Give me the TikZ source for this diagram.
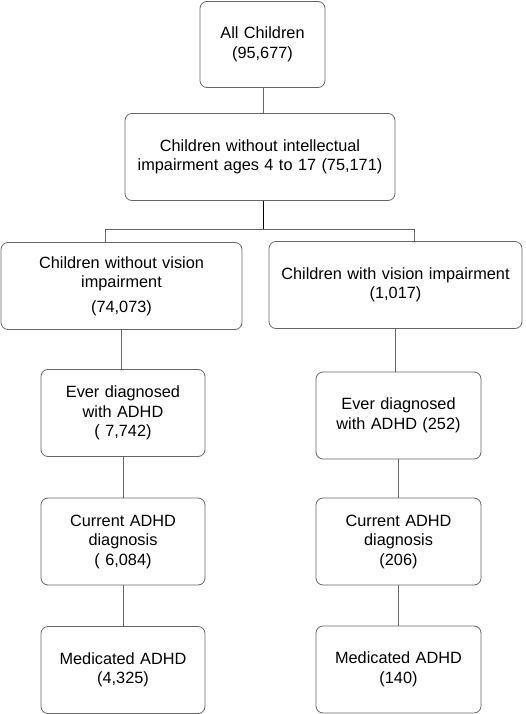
\documentclass[tikz,border=0pt]{standalone}
\usepackage{fontspec}
\setmainfont{Liberation Sans}
\usetikzlibrary{positioning}
\tikzset{
  box/.style = {draw=black!60, line width=0.8pt, rounded corners=7pt, align=center,
    inner sep=0pt, minimum height=87pt, font=\fontsize{16.3}{19.5}\selectfont},
  link/.style = {draw=black!60, line width=0.8pt}
}

\begin{document}
\begin{tikzpicture}[x=1pt, y=-1pt]

    \useasboundingbox (0,0) rectangle (525,714);

    % Top of the tree
    \node[box, text width=125pt, minimum height=86pt] (all) at (262.5,44.5) {All Children\\(95,677)};
    \node[box, text width=270pt] (cohort) at (260,157) {Children without intellectual\\impairment ages 4 to 17 (75,171)};

    % Vision split
    \node[box, text width=241pt] (novis) at (121.5,286) {Children without vision\\impairment\\[5pt](74,073)};
    \node[box, text width=253pt] (vis) at (395.5,285) {Children with vision impairment\\(1,017)};

    % Left branch
    \node[box, text width=164pt] (everL) at (123,413) {Ever diagnosed\\with ADHD\\( 7,742)};
    \node[box, text width=164pt] (curL) at (123,541.5) {Current ADHD\\diagnosis\\( 6,084)};
    \node[box, text width=164pt] (medL) at (123,670) {Medicated ADHD\\(4,325)};

    % Right branch
    \node[box, text width=165pt] (everR) at (398.5,415.5) {Ever diagnosed\\with ADHD (252)};
    \node[box, text width=165pt] (curR) at (398.5,541.5) {Current ADHD\\diagnosis\\(206)};
    \node[box, text width=165pt] (medR) at (398.5,669.5) {Medicated ADHD\\(140)};

    % Connectors
    \coordinate (split) at (263,229);
    \draw[link] (all.south -| split) -- (cohort.north -| split);
    \draw[draw=black, line width=0.8pt] (cohort.south -| split) -- (split);
    \draw[link] (split) -| ([xshift=-16.5pt]novis.north);
    \draw[link] (split) -| ([xshift=18.5pt]vis.north);

    \draw[link] (novis.south) -- (novis.south |- everL.north);
    \draw[link] (everL) -- (curL);
    \draw[link] (curL) -- (medL);

    \draw[link] (vis.south) -- (vis.south |- everR.north);
    \draw[link] (everR) -- (curR);
    \draw[link] (curR) -- (medR);

\end{tikzpicture}
\end{document}
